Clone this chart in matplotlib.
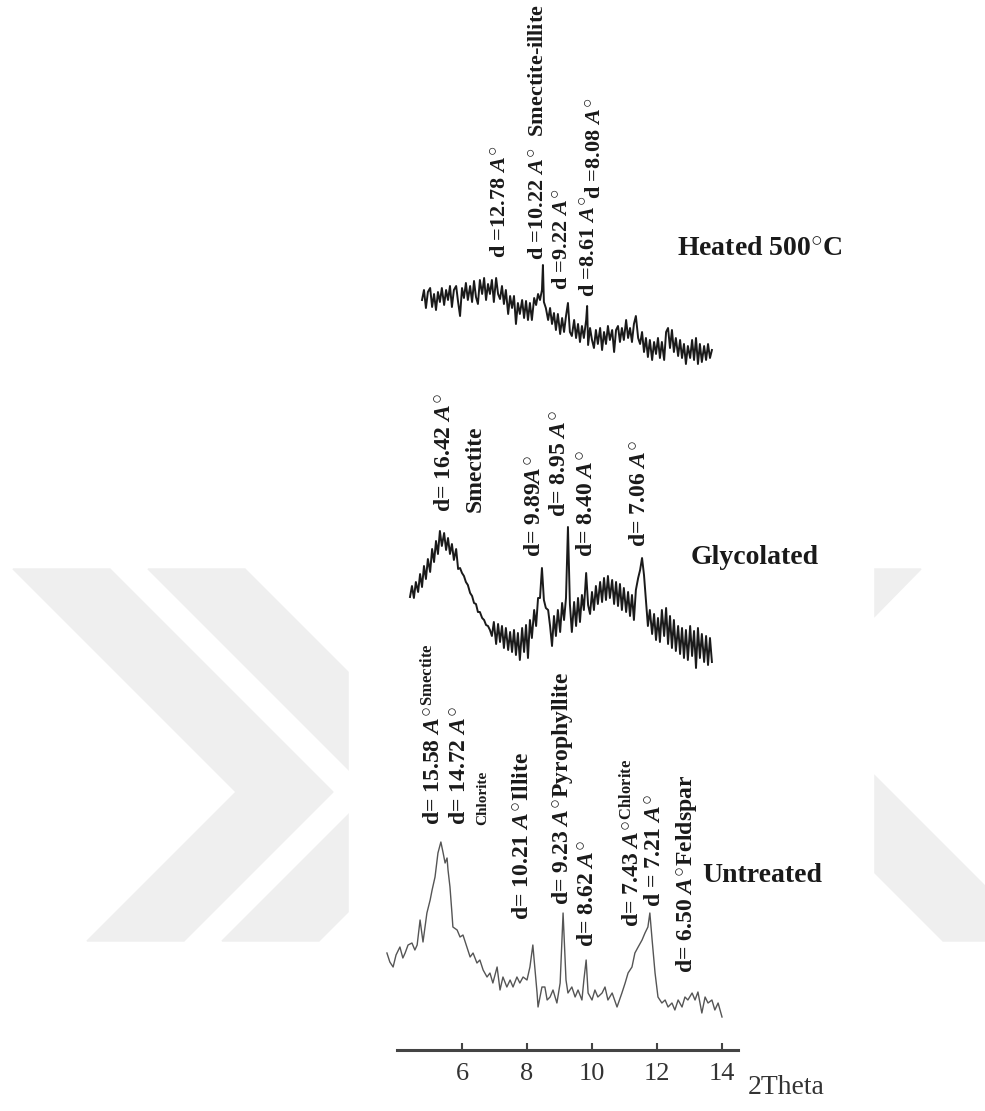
import matplotlib
matplotlib.use('Agg')
import matplotlib.pyplot as plt
from matplotlib.patches import Polygon, Rectangle

plt.rcParams['font.family'] = ['Liberation Serif', 'DejaVu Serif']
plt.rcParams['mathtext.fontset'] = 'custom'
plt.rcParams['mathtext.rm'] = 'Liberation Serif:bold'
plt.rcParams['mathtext.it'] = 'Liberation Serif:italic:bold'
plt.rcParams['mathtext.bf'] = 'Liberation Serif:bold'

# stacked XRD patterns, intensity in arbitrary units (offsets included)
untreated_2theta = [3.69, 3.78, 3.88, 3.97, 4.09, 4.18, 4.25, 4.34, 4.46, 4.55, 4.62, 4.71, 4.80, 4.92,
                    5.02, 5.08, 5.17, 5.26, 5.35, 5.42, 5.48, 5.54, 5.57, 5.63, 5.69, 5.72, 5.85, 5.94,
                    6.03, 6.15, 6.25, 6.34, 6.46, 6.55, 6.65, 6.77, 6.86, 6.95, 7.08, 7.17, 7.26, 7.38,
                    7.48, 7.57, 7.69, 7.78, 7.88, 8.00, 8.09, 8.18, 8.22, 8.31, 8.34, 8.46, 8.55, 8.62,
                    8.71, 8.80, 8.92, 9.02, 9.11, 9.20, 9.26, 9.38, 9.48, 9.57, 9.69, 9.75, 9.82, 9.88,
                    10.00, 10.09, 10.18, 10.31, 10.40, 10.49, 10.62, 10.77, 10.92, 11.02, 11.11, 11.23,
                    11.32, 11.42, 11.54, 11.63, 11.72, 11.78, 11.85, 11.94, 12.03, 12.15, 12.25, 12.34,
                    12.46, 12.55, 12.65, 12.77, 12.86, 12.95, 13.08, 13.17, 13.26, 13.38, 13.48, 13.57,
                    13.69, 13.78, 13.88, 14.00]
untreated_int = [97, 88, 83, 95, 103, 92, 97, 105, 107, 100, 105, 130, 108, 137,
                 150, 160, 173, 197, 208, 197, 187, 192, 180, 163, 137, 123, 120, 113,
                 115, 103, 93, 97, 87, 90, 80, 73, 77, 67, 83, 60, 73, 63,
                 70, 63, 73, 67, 73, 70, 83, 105, 90, 57, 43, 63, 63, 50,
                 53, 60, 47, 67, 137, 70, 57, 63, 53, 60, 50, 70, 90, 57,
                 50, 60, 53, 57, 63, 50, 57, 43, 57, 67, 77, 83,
                 97, 103, 110, 117, 123, 137, 110, 77, 53, 47, 50, 43,
                 47, 40, 50, 43, 53, 50, 57, 50, 58, 37, 53, 47,
                 50, 40, 47, 33]

glycolated_2theta = [4.40, 4.46, 4.52, 4.58, 4.65, 4.71, 4.77, 4.83, 4.89, 4.95, 5.02, 5.08, 5.14, 5.20,
                     5.26, 5.32, 5.38, 5.45, 5.51, 5.57, 5.63, 5.69, 5.75, 5.82, 5.88, 5.94, 6.00, 6.06,
                     6.12, 6.18, 6.25, 6.31, 6.37, 6.43, 6.49, 6.55, 6.62, 6.68, 6.74, 6.80, 6.86, 6.92,
                     6.98, 7.05, 7.11, 7.17, 7.23, 7.29, 7.35, 7.42, 7.48, 7.54, 7.60, 7.66, 7.72, 7.78,
                     7.85, 7.91, 7.97, 8.03, 8.09, 8.15, 8.22, 8.28, 8.34, 8.40, 8.46, 8.52, 8.58, 8.65,
                     8.71, 8.77, 8.83, 8.89, 8.95, 9.02, 9.08, 9.14, 9.20, 9.26, 9.32, 9.38, 9.45, 9.51,
                     9.57, 9.63, 9.69, 9.75, 9.82, 9.88, 9.94, 10.00, 10.06, 10.12, 10.18, 10.25, 10.31,
                     10.37, 10.43, 10.49, 10.55, 10.62, 10.68, 10.74, 10.80, 10.86, 10.92, 10.98, 11.05,
                     11.11, 11.17, 11.23, 11.29, 11.35, 11.42, 11.48, 11.54, 11.60, 11.66, 11.72, 11.78,
                     11.85, 11.91, 11.97, 12.03, 12.09, 12.15, 12.22, 12.28, 12.34, 12.40, 12.46, 12.52,
                     12.58, 12.65, 12.71, 12.77, 12.83, 12.89, 12.95, 13.02, 13.08, 13.14, 13.20, 13.26,
                     13.32, 13.38, 13.45, 13.51, 13.57, 13.63, 13.69]
glycolated_int = [453, 464, 452, 468, 458, 476, 463, 484, 471, 491, 478, 501, 488, 509,
                  496, 519, 504, 517, 500, 512, 496, 506, 490, 501, 481, 482, 477, 474,
                  468, 465, 457, 454, 447, 446, 438, 438, 432, 430, 425, 424, 420, 414,
                  428, 406, 426, 408, 424, 402, 422, 400, 418, 398, 420, 395, 417, 390,
                  422, 398, 425, 392, 430, 412, 440, 424, 452, 452, 482, 450, 442, 440,
                  424, 404, 434, 414, 440, 418, 447, 430, 452, 523, 446, 418, 448, 424,
                  452, 428, 455, 440, 477, 445, 436, 458, 440, 464, 446, 468, 448,
                  472, 450, 474, 452, 470, 446, 468, 444, 466, 440, 462, 438,
                  458, 434, 455, 430, 460, 472, 480, 492, 475, 450, 424, 440,
                  416, 436, 410, 432, 408, 440, 414, 442, 406, 434, 402, 430,
                  399, 424, 396, 422, 392, 420, 390, 424, 394, 419, 382, 422,
                  392, 416, 388, 414, 385, 412, 388]

heated_2theta = [4.77, 4.83, 4.89, 4.95, 5.02, 5.08, 5.14, 5.20, 5.26, 5.32, 5.38, 5.45, 5.51, 5.57,
                 5.63, 5.69, 5.75, 5.82, 5.88, 5.94, 6.00, 6.06, 6.12, 6.18, 6.25, 6.31, 6.37, 6.43,
                 6.49, 6.55, 6.62, 6.68, 6.74, 6.80, 6.86, 6.92, 6.98, 7.05, 7.11, 7.17, 7.23, 7.29,
                 7.35, 7.42, 7.48, 7.54, 7.60, 7.66, 7.72, 7.78, 7.85, 7.91, 7.97, 8.03, 8.09, 8.15,
                 8.22, 8.28, 8.34, 8.40, 8.46, 8.49, 8.52, 8.58, 8.65, 8.71, 8.77, 8.83, 8.89, 8.95,
                 9.02, 9.08, 9.14, 9.20, 9.26, 9.32, 9.38, 9.45, 9.51, 9.57, 9.63, 9.69, 9.75, 9.82,
                 9.85, 9.88, 9.94, 10.00, 10.06, 10.12, 10.18, 10.25, 10.31, 10.37, 10.43, 10.49,
                 10.55, 10.62, 10.68, 10.74, 10.80, 10.86, 10.92, 10.98, 11.05, 11.11, 11.17, 11.23,
                 11.29, 11.35, 11.42, 11.48, 11.54, 11.60, 11.66, 11.72, 11.78, 11.85, 11.91, 11.97,
                 12.03, 12.09, 12.15, 12.22, 12.28, 12.34, 12.40, 12.46, 12.52, 12.58, 12.65, 12.71,
                 12.77, 12.83, 12.89, 12.95, 13.02, 13.08, 13.14, 13.20, 13.26, 13.32, 13.38, 13.45,
                 13.51, 13.57, 13.63, 13.69]
heated_int = [750, 760, 742, 758, 762, 743, 756, 740, 758, 748, 762, 745, 760, 750,
              764, 743, 760, 764, 748, 734, 762, 752, 767, 750, 764, 748, 769, 753,
              746, 770, 756, 772, 750, 766, 756, 770, 748, 772, 756, 751, 764, 746,
              760, 736, 754, 742, 754, 726, 747, 736, 750, 732, 749, 730, 747, 730,
              752, 745, 756, 750, 760, 785, 748, 742, 730, 742, 726, 737, 720, 736,
              716, 732, 718, 734, 747, 718, 714, 730, 712, 726, 708, 724, 712, 730,
              744, 705, 722, 710, 702, 720, 706, 722, 700, 718, 706, 724,
              710, 720, 698, 720, 724, 708, 722, 710, 730, 712, 722, 708,
              726, 734, 712, 706, 718, 698, 712, 693, 710, 690, 708, 696,
              712, 692, 708, 690, 718, 722, 702, 720, 698, 712, 694, 710,
              692, 706, 686, 704, 692, 710, 690, 712, 686, 706, 688, 704,
              690, 706, 692, 700]

# peak labels: (2theta, intensity, text, size)
A = r'$\mathit{A}^{\bigcirc}$'
heated_labels = [(7.17, 792, 'd =12.78 ' + A, 16),
                 (8.34, 790, 'd =10.22 ' + A + '  Smectite-illite', 16),
                 (9.08, 760, 'd =9.22 ' + A, 16),
                 (9.91, 753, 'd =8.61 ' + A, 16),
                 (10.10, 851, 'd =8.08 ' + A, 16)]
glycolated_labels = [(5.48, 538, 'd= 16.42 ' + A, 17),
                     (6.40, 538, 'Smectite', 17),
                     (8.25, 493, 'd= 9.89' + A, 17),
                     (9.02, 533, 'd= 8.95 ' + A, 17),
                     (9.85, 493, 'd= 8.40 ' + A, 17),
                     (11.48, 503, 'd= 7.06 ' + A, 17)]
untreated_labels = [(5.11, 225, r'd= 15.58 $\mathit{A}^{\bigcirc}{}^{\mathrm{Smectite}}$', 17),
                    (5.94, 225, 'd= 14.72 ' + A, 17),
                    (6.65, 225, 'Chlorite', 11),
                    (7.88, 130, 'd= 10.21 ' + A + 'Illite', 17),
                    (9.11, 145, 'd= 9.23 ' + A + 'Pyrophyllite', 17),
                    (9.88, 103, 'd= 8.62 ' + A, 17),
                    (11.24, 123, r'd= 7.43 $\mathit{A}^{\bigcirc}{}^{\mathrm{Chlorite}}$', 17),
                    (11.94, 143, 'd = 7.21 ' + A, 17),
                    (12.92, 77, 'd= 6.50 ' + A + 'Feldspar', 17)]
sample_names = [r'Heated 500$^{\bigcirc}$C', 'Glycolated', 'Untreated']
sample_pos = [(12.62, 800), (13.02, 493), (13.38, 175)]
xticks = [6, 8, 10, 12, 14]

W, H = 985, 1111
fig = plt.figure(figsize=(W / 100, H / 100), dpi=100)


def px(x, y):
    return (x / W, 1 - y / H)


# faint watermark behind the chart
wm = '#efefef'
chevrons = [[(13, 569), (110, 569), (333, 792), (184, 941), (87, 941), (236, 792)],
            [(148, 569), (245, 569), (468, 792), (319, 941), (222, 941), (371, 792)],
            [(874, 569), (921, 569), (874, 617)],
            [(874, 775), (985, 886), (985, 941), (943, 941), (874, 872)]]
for c in chevrons:
    fig.patches.append(Polygon([px(*p) for p in c], closed=True, color=wm,
                               transform=fig.transFigure, zorder=0))
x0, y0 = px(349, 1111)
fig.patches.append(Rectangle((x0, y0), 524 / W, 1, color='white',
                             transform=fig.transFigure, zorder=1))

# axes so that 2theta=4 -> 397 px, 14 -> 722 px, baseline at 1050 px
scale = 32.5
xmin, xmax = 3.5, 14.8
left = 397 + (xmin - 4) * scale
right = 397 + (xmax - 4) * scale
ax = fig.add_axes([left / W, (H - 1050) / H, (right - left) / W, 1050 / H])
ax.set_zorder(5)
ax.patch.set_alpha(0)
ax.set_xlim(xmin, xmax)
ax.set_ylim(0, 1050)

ax.plot(untreated_2theta, untreated_int, color='#555555', lw=1.0)
ax.plot(glycolated_2theta, glycolated_int, color='#1a1a1a', lw=1.4)
ax.plot(heated_2theta, heated_int, color='#1a1a1a', lw=1.4)

for labels in [heated_labels, glycolated_labels, untreated_labels]:
    for x, y, t, s in labels:
        ax.text(x, y, t, rotation=90, ha='center', va='bottom', fontsize=s,
                fontweight='bold', color='#1a1a1a')

for name, (x, y) in zip(sample_names, sample_pos):
    ax.text(x, y, name, ha='left', va='center', fontsize=20, fontweight='bold',
            color='#1a1a1a')

for s in ['left', 'right', 'top']:
    ax.spines[s].set_visible(False)
ax.spines['bottom'].set_bounds(4, 14.5)
ax.spines['bottom'].set_linewidth(2.2)
ax.spines['bottom'].set_color('#444444')
ax.set_yticks([])
ax.set_xticks(xticks)
ax.tick_params(axis='x', direction='in', length=5, width=1.5, color='#444444',
               labelsize=19, labelcolor='#333333', pad=9)
ax.text(14.8, -38, '2Theta', ha='left', va='center', fontsize=20, color='#333333')

fig.savefig('out.png', dpi=100)
